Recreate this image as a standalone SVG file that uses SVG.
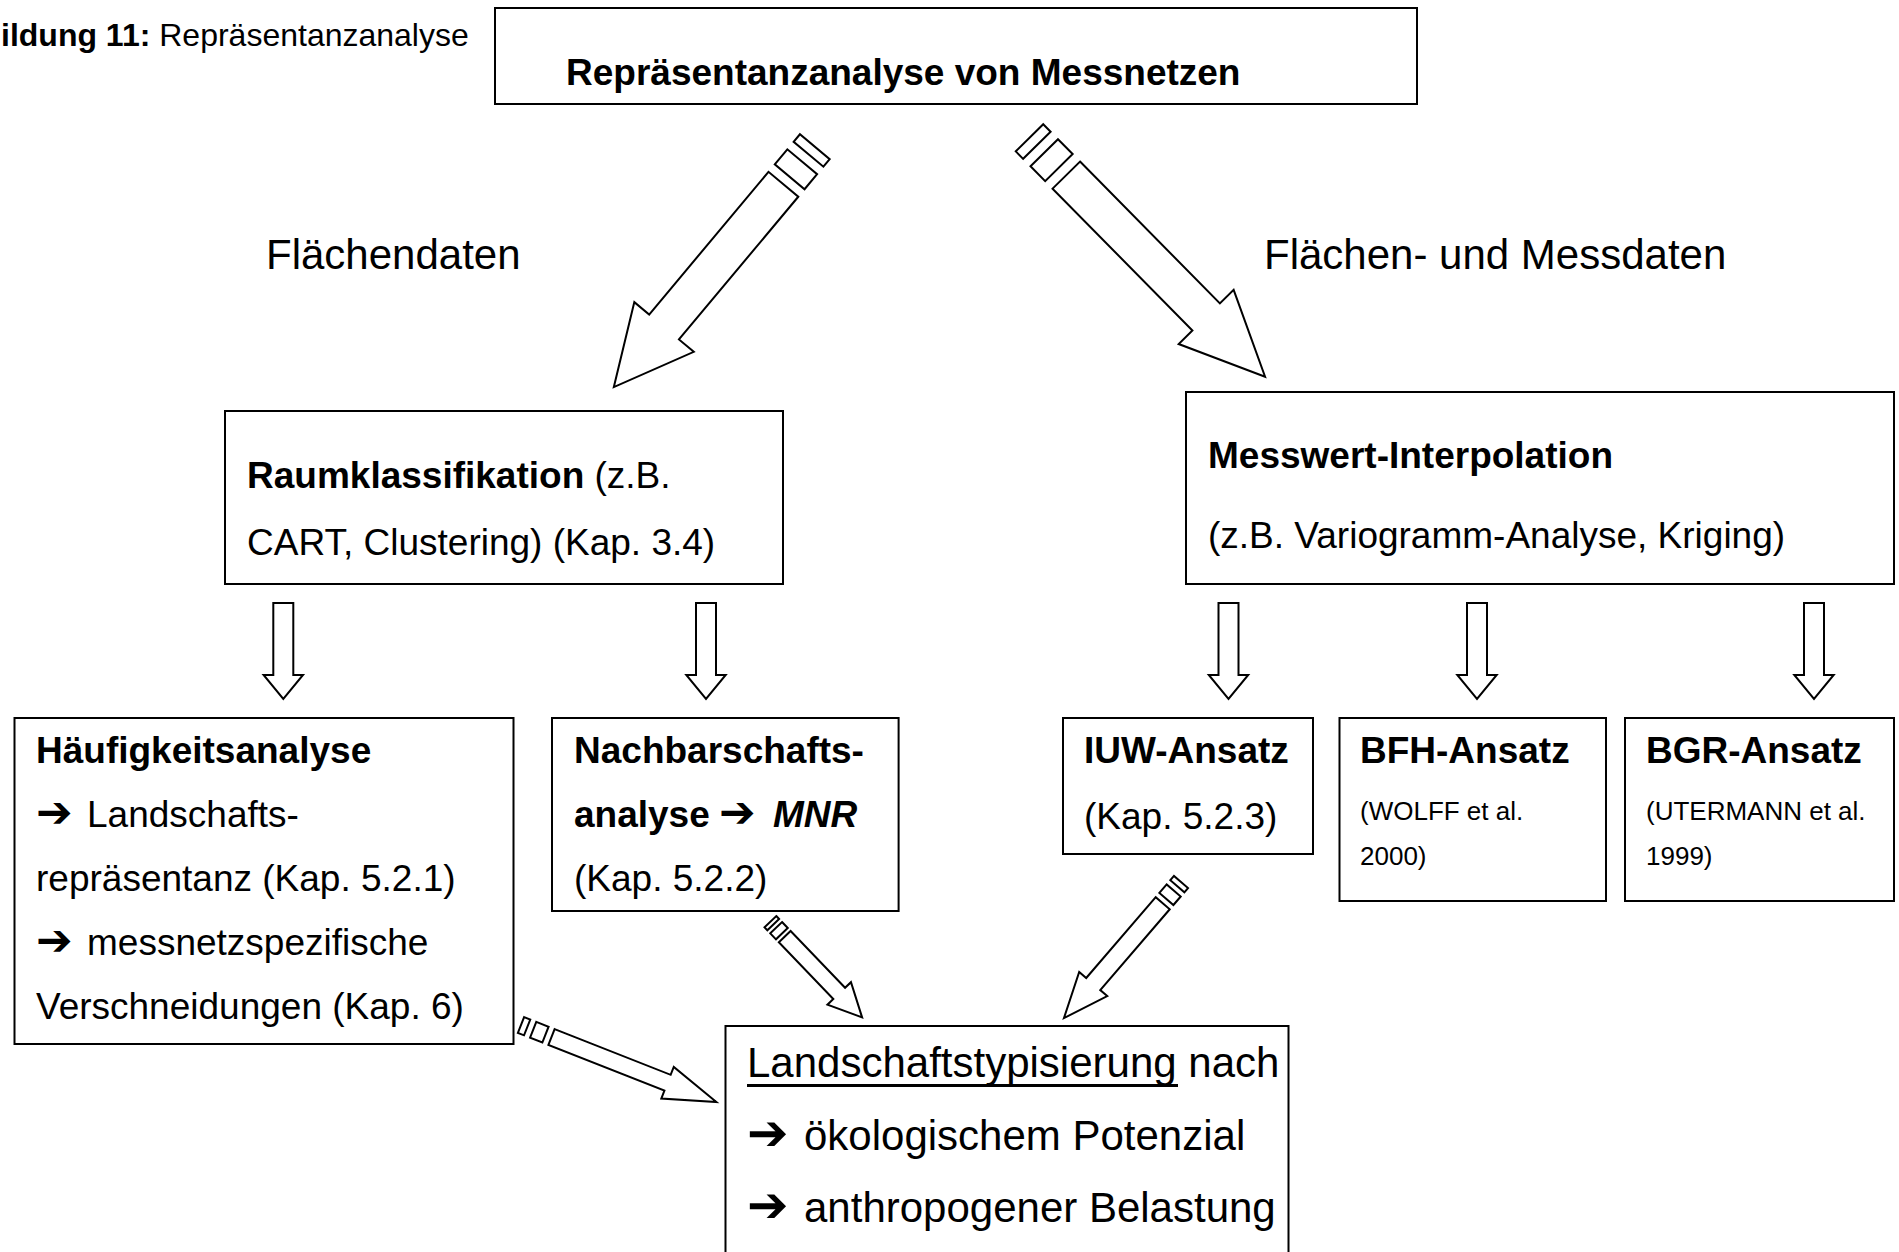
<svg xmlns="http://www.w3.org/2000/svg" width="1899" height="1252" viewBox="0 0 1899 1252">
<style>
.box{fill:#fff;stroke:#000;stroke-width:2}
.arr{fill:#fff;stroke:#000;stroke-width:2;stroke-linejoin:miter}
text{font-family:"Liberation Sans",Arial,"DejaVu Sans",sans-serif;fill:#000}
.t37{font-size:37px}
.t42{font-size:42px}
.t26{font-size:26px}
.b{font-weight:bold}
.i{font-style:italic}
.ar{font-family:"DejaVu Sans",sans-serif;font-weight:bold;font-size:1.18em}
</style>
<rect width="1899" height="1252" fill="#fff"/>
<text x="1" y="46" style="font-size:32px"><tspan class="b">ildung 11:</tspan> Repräsentanzanalyse</text>

<g id="connectors">
  <g id="arrowA" transform="translate(814.8,146.7) rotate(129.9)">
    <path class="arr" d="M0,-19.4H9.8V19.4H0Z M19.6,-19.4H39.2V19.4H19.6Z M49,-19.4H235V-38.75L313.3,0L235,38.75V19.4H49Z"/>
  </g>
  <g id="arrowB" transform="translate(1029.5,137.8) rotate(45.4)">
    <path class="arr" d="M0,-19.3H10.5V19.3H0Z M21,-19.3H41.9V19.3H21Z M52.4,-19.3H251.6V-38.6L335.5,0L251.6,38.6V19.3H52.4Z"/>
  </g>
  <g id="arrowC" transform="translate(770.4,921.7) rotate(46.2)">
    <path class="arr" d="M0,-8.15H4.1V8.15H0Z M8.3,-8.15H16.6V8.15H8.3Z M20.7,-8.15H99.4V-16.3L132.5,0L99.4,16.3V8.15H20.7Z"/>
  </g>
  <g id="arrowD" transform="translate(1181,882) rotate(130.7)">
    <path class="arr" d="M0,-9.25H5.6V9.25H0Z M11.2,-9.25H22.4V9.25H11.2Z M28,-9.25H134.6V-18.5L179.5,0L134.6,18.5V9.25H28Z"/>
  </g>
  <g id="arrowE" transform="translate(521,1025) rotate(21.5)">
    <path class="arr" d="M0,-8.5H6.6V8.5H0Z M13.1,-8.5H26.3V8.5H13.1Z M32.8,-8.5H157.5V-17L210,0L157.5,17V8.5H32.8Z"/>
  </g>
  <path class="arr" d="M273.3,603V675H263.6L283.3,699L303,675H293.3V603Z"/>
  <path class="arr" d="M696,603V675H686.3L706,699L725.7,675H716V603Z"/>
  <path class="arr" d="M1218.5,603V675H1208.8L1228.5,699L1248.2,675H1238.5V603Z"/>
  <path class="arr" d="M1467,603V675H1457.3L1477,699L1496.7,675H1487V603Z"/>
  <path class="arr" d="M1804,603V675H1794.3L1814,699L1833.7,675H1824V603Z"/>
</g>

<g id="n-title">
  <rect class="box" x="495" y="8" width="922" height="96"/>
  <text class="t37 b" x="566" y="85">Repräsentanzanalyse von Messnetzen</text>
</g>
<g id="l-flaechen">
  <text class="t42" x="266" y="269">Flächendaten</text>
</g>
<g id="l-flaechenmess">
  <text class="t42" x="1264" y="269">Flächen- und Messdaten</text>
</g>
<g id="n-raum">
  <rect class="box" x="225" y="411" width="558" height="173"/>
  <text class="t37" x="247" y="488"><tspan class="b">Raumklassifikation</tspan> (z.B.</text>
  <text class="t37" x="247" y="555">CART, Clustering) (Kap. 3.4)</text>
</g>
<g id="n-messwert">
  <rect class="box" x="1186" y="392" width="708" height="192"/>
  <text class="t37 b" x="1208" y="468">Messwert-Interpolation</text>
  <text class="t37" x="1208" y="548">(z.B. Variogramm-Analyse, Kriging)</text>
</g>
<g id="n-haeufig">
  <rect class="box" x="14.5" y="718" width="499" height="326"/>
  <text class="t37 b" x="36" y="763">Häufigkeitsanalyse</text>
  <text class="t37" x="36" y="827"><tspan class="ar">➔</tspan><tspan x="87">Landschafts-</tspan></text>
  <text class="t37" x="36" y="891">repräsentanz (Kap. 5.2.1)</text>
  <text class="t37" x="36" y="955"><tspan class="ar">➔</tspan><tspan x="87">messnetzspezifische</tspan></text>
  <text class="t37" x="36" y="1019">Verschneidungen (Kap. 6)</text>
</g>
<g id="n-nachbar">
  <rect class="box" x="552" y="718" width="346.6" height="193"/>
  <text class="t37 b" x="574" y="763">Nachbarschafts-</text>
  <text class="t37 b" x="574" y="827">analyse <tspan class="ar" x="719">➔</tspan><tspan class="i" x="773">MNR</tspan></text>
  <text class="t37" x="574" y="891">(Kap. 5.2.2)</text>
</g>
<g id="n-iuw">
  <rect class="box" x="1063" y="718" width="250" height="136"/>
  <text class="t37 b" x="1084" y="763">IUW-Ansatz</text>
  <text class="t37" x="1084" y="829">(Kap. 5.2.3)</text>
</g>
<g id="n-bfh">
  <rect class="box" x="1339.5" y="718" width="266.5" height="183"/>
  <text class="t37 b" x="1360" y="763">BFH-Ansatz</text>
  <text class="t26" x="1360" y="820">(WOLFF et al.</text>
  <text class="t26" x="1360" y="865">2000)</text>
</g>
<g id="n-bgr">
  <rect class="box" x="1625" y="718" width="269" height="183"/>
  <text class="t37 b" x="1646" y="763">BGR-Ansatz</text>
  <text class="t26" x="1646" y="820">(UTERMANN et al.</text>
  <text class="t26" x="1646" y="865">1999)</text>
</g>
<g id="n-landschaft">
  <rect class="box" x="725.5" y="1026" width="563" height="300"/>
  <text class="t42" x="747" y="1077">Landschaftstypisierung nach</text>
  <rect x="747" y="1084" width="431" height="3" fill="#000"/>
  <text class="t42" x="747" y="1149.5"><tspan class="ar">➔</tspan><tspan x="804">ökologischem Potenzial</tspan></text>
  <text class="t42" x="747" y="1222"><tspan class="ar">➔</tspan><tspan x="804">anthropogener Belastung</tspan></text>
</g>
</svg>
